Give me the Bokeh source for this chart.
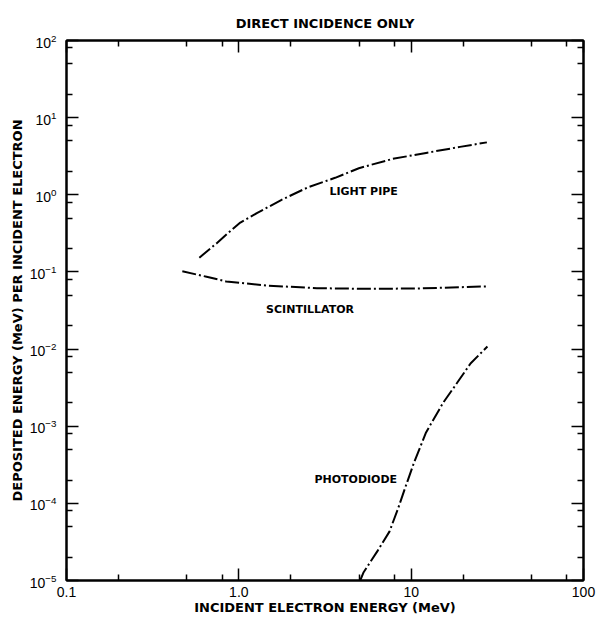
from bokeh.plotting import figure
from bokeh.models import FixedTicker, LogAxis, CustomJSTickFormatter, LogTickFormatter
from bokeh.embed import file_html
from bokeh.resources import INLINE
from bokeh.core.properties import value

# ---- data ----
x_major = [0.1, 1, 10, 100]
x_labels = ["0.1", "1.0", "10", "100"]
x_minor = [0.2, 0.5, 0.8, 2, 5, 8, 20, 50, 80]
y_major = [1e-5, 1e-4, 1e-3, 1e-2, 1e-1, 1e0, 1e1, 1e2]
y_minor = [m * 10.0 ** k for k in range(-5, 2) for m in (2, 5, 8)]

light_pipe_e = [0.59, 0.75, 0.853, 1.02, 1.28, 1.76, 2.52, 3.62, 4.97, 7.8, 12.2, 19.2, 27.5]
light_pipe_d = [0.153, 0.239, 0.31, 0.437, 0.583, 0.855, 1.25, 1.66, 2.21, 2.92, 3.49, 4.18, 4.78]

scint_e = [0.47, 0.65, 0.845, 1.45, 2.84, 5.57, 10.9, 17.1, 27.4]
scint_d = [0.102, 0.0865, 0.0753, 0.0665, 0.0615, 0.0604, 0.061, 0.0629, 0.0649]

photo_e = [5.06, 5.3, 6.37, 7.48, 8.4, 9.2, 10.4, 12.2, 15.3, 18.4, 22.1, 27.7]
photo_d = [1.0e-5, 1.28e-5, 2.4e-5, 4.3e-5, 8.6e-5, 1.56e-4, 3.4e-4, 8.3e-4, 2.0e-3, 3.6e-3, 6.5e-3, 1.08e-2]

curve_labels = ["LIGHT PIPE", "SCINTILLATOR", "PHOTODIODE"]
label_e = [5.3, 2.59, 4.77]
label_d = [1.09, 0.0324, 2.05e-4]

FONT = "Liberation Sans"
BOLD = "DejaVu Sans"

p = figure(width=610, height=622, x_axis_type="log", y_axis_type="log",
           x_range=(0.1, 100), y_range=(1e-5, 1e2),
           output_backend="svg", toolbar_location=None,
           min_border_left=66, min_border_right=27, min_border_top=40, min_border_bottom=42)
p.title.text = "DIRECT INCIDENCE ONLY"
p.title.align = "center"
p.title.text_font = BOLD
p.title.text_font_style = "bold"
p.title.text_font_size = "13px"
p.title.text_color = "black"
p.title.standoff = 20
p.grid.visible = False
p.outline_line_color = "black"
p.outline_line_width = 2
p.background_fill_color = "white"
p.border_fill_color = "white"

xt = FixedTicker(ticks=x_major, minor_ticks=x_minor)
yt = FixedTicker(ticks=y_major, minor_ticks=y_minor)
xfmt = CustomJSTickFormatter(args=dict(vals=x_major, labs=x_labels), code="""
const i = vals.findIndex(v => Math.abs(Math.log10(v) - Math.log10(tick)) < 1e-6);
return i >= 0 ? labs[i] : '';
""")
blank = CustomJSTickFormatter(code="return '';")

def style(ax):
    ax.axis_line_width = 2
    ax.axis_line_color = "black"
    ax.major_tick_in = 12
    ax.major_tick_out = 0
    ax.minor_tick_in = 6
    ax.minor_tick_out = 0
    ax.major_tick_line_width = 1.5
    ax.minor_tick_line_width = 1.5
    ax.major_label_text_font = FONT
    ax.major_label_text_font_size = "14px"
    ax.major_label_text_color = "black"
    ax.axis_label_text_font = BOLD
    ax.axis_label_text_font_style = "bold"
    ax.axis_label_text_font_size = "13px"
    ax.axis_label_text_color = "black"

xa = p.xaxis[0]
xa.ticker = xt
xa.formatter = xfmt
xa.axis_label = "INCIDENT ELECTRON ENERGY (MeV)"
style(xa)
xa.major_label_standoff = 6
xa.axis_label_standoff = 0

ya = p.yaxis[0]
ya.ticker = yt
ya.formatter = LogTickFormatter()
ya.axis_label = "DEPOSITED ENERGY (MeV) PER INCIDENT ELECTRON"
style(ya)
ya.major_label_standoff = 10
ya.axis_label_standoff = 2

top = LogAxis(ticker=FixedTicker(ticks=x_major, minor_ticks=x_minor), formatter=blank)
style(top)
top.major_label_text_font_size = "0px"
top.major_label_standoff = 0
p.add_layout(top, "above")

right = LogAxis(ticker=FixedTicker(ticks=y_major, minor_ticks=y_minor), formatter=blank)
style(right)
right.major_label_text_font_size = "0px"
right.major_label_standoff = 0
p.add_layout(right, "right")

dash = "14 3 2 3"
p.line(light_pipe_e, light_pipe_d, line_color="black", line_width=2, line_dash=dash)
p.line(scint_e, scint_d, line_color="black", line_width=2, line_dash=dash)
p.line(photo_e, photo_d, line_color="black", line_width=2, line_dash=dash)

p.text(x=label_e, y=label_d, text=curve_labels, text_font=value(BOLD),
       text_font_style="bold", text_font_size="11px", text_color="black",
       text_align="center", text_baseline="middle")

open("out.html", "w").write(file_html(p, INLINE))
